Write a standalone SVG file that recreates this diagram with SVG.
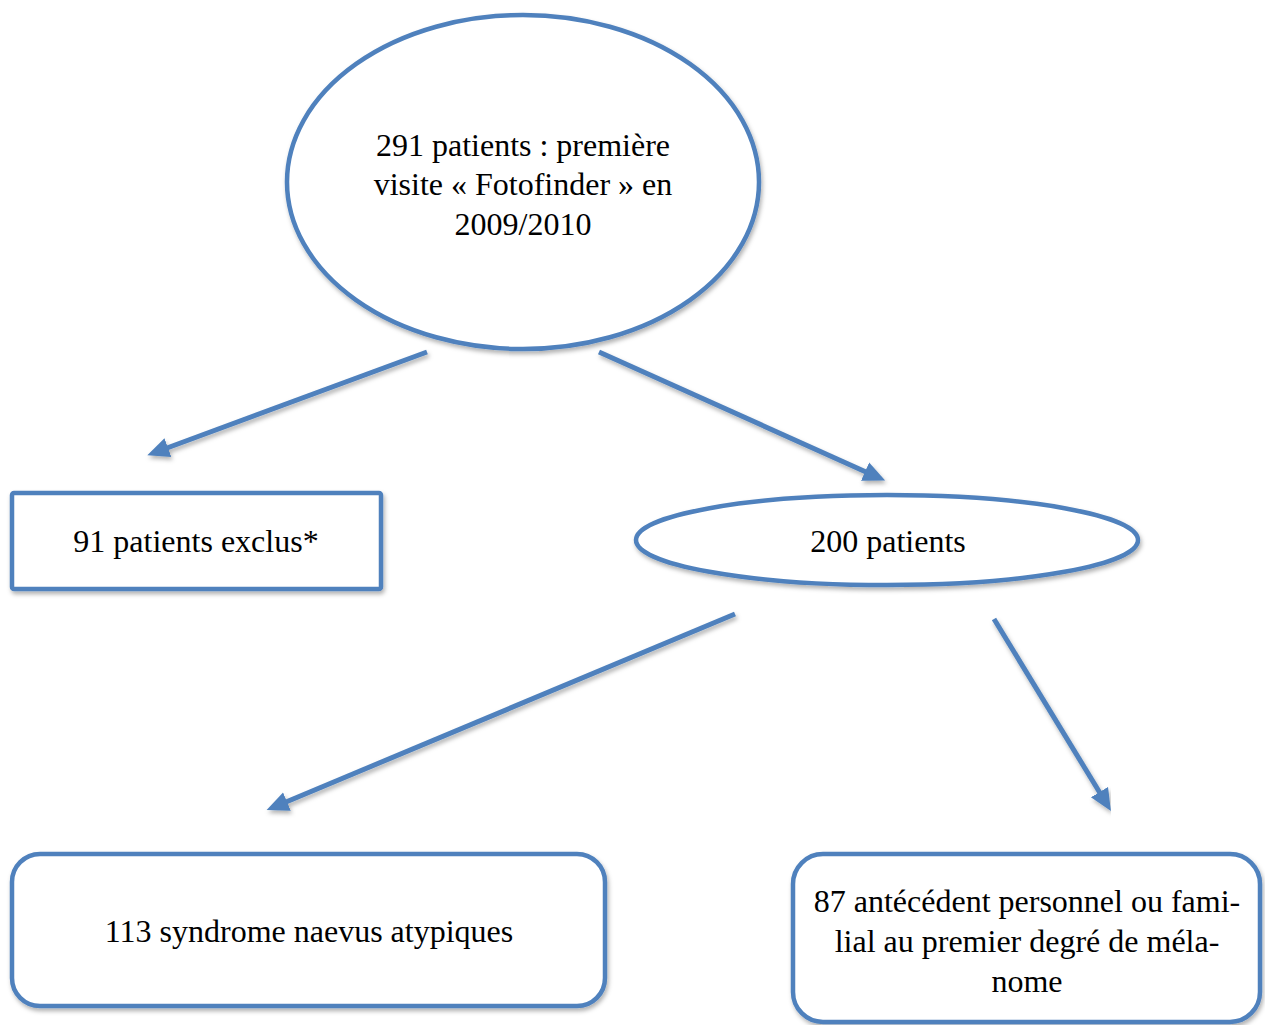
<svg xmlns="http://www.w3.org/2000/svg" width="1265" height="1025" viewBox="0 0 1265 1025">
<defs>
<style>
.shape{fill:#ffffff;stroke:#4F81BD;stroke-width:4.5;filter:url(#sh)}
.lbl{font-family:"Liberation Serif","Times New Roman",serif;font-size:32px;fill:#000;text-anchor:middle}
.conn{stroke:#4F81BD;stroke-width:5;fill:none;marker-end:url(#ah);filter:url(#sh)}
</style>
<filter id="sh" x="-10%" y="-10%" width="120%" height="130%">
<feDropShadow dx="1.5" dy="3" stdDeviation="2" flood-color="#000" flood-opacity="0.3"/>
</filter>
<marker id="ah" markerUnits="userSpaceOnUse" markerWidth="24" markerHeight="22" refX="1" refY="10" orient="auto" viewBox="0 0 24 20">
<path d="M0,0 L22,10 L0,20 Z" fill="#4F81BD"/>
</marker>
</defs>
<rect width="1265" height="1025" fill="#ffffff"/>
<g id="connectors">
<line class="conn" x1="427" y1="352" x2="167" y2="448"/>
<line class="conn" x1="599" y1="352" x2="866" y2="472"/>
<line class="conn" x1="735" y1="614" x2="286" y2="802"/>
<line class="conn" x1="994" y1="619" x2="1100" y2="793"/>
</g>
<g id="n1">
<ellipse class="shape" cx="523" cy="182" rx="236" ry="167"/>
<text class="lbl" x="523" y="156">291 patients : première</text>
<text class="lbl" x="523" y="195">visite « Fotofinder » en</text>
<text class="lbl" x="523" y="235">2009/2010</text>
</g>
<g id="n2">
<rect class="shape" x="12" y="493" width="369" height="96" rx="2"/>
<text class="lbl" x="196" y="552">91 patients exclus*</text>
</g>
<g id="n3">
<ellipse class="shape" cx="887" cy="540" rx="251" ry="45"/>
<text class="lbl" x="888" y="552">200 patients</text>
</g>
<g id="n4">
<rect class="shape" x="12" y="854" width="593" height="152" rx="28"/>
<text class="lbl" x="309" y="942">113 syndrome naevus atypiques</text>
</g>
<g id="n5">
<rect class="shape" x="793" y="854" width="467" height="168" rx="30"/>
<text class="lbl" x="1027" y="912">87 antécédent personnel ou fami-</text>
<text class="lbl" x="1027" y="952">lial au premier degré de méla-</text>
<text class="lbl" x="1027" y="992">nome</text>
</g>
</svg>
